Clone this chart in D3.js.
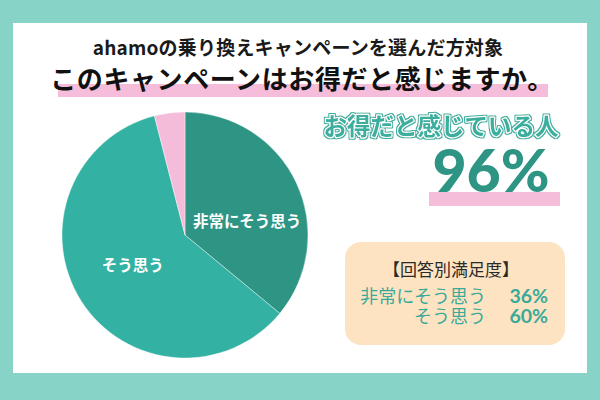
<!DOCTYPE html>
<html><head><meta charset="utf-8">
<script src="https://cdn.jsdelivr.net/npm/d3@7"></script>
<style>html,body{margin:0;padding:0;background:#fff;}svg{display:block;}</style>
</head><body>
<svg id="c" width="600" height="400"></svg>
<script>
const categories = ["非常にそう思う", "そう思う", "その他"];
const values = [36, 60, 4];
const colors = ["#2E9585", "#33B1A2", "#F5BCDA"];
const titleLine1 = "ahamoの乗り換えキャンペーンを選んだ方対象";
const titleLine2 = "このキャンペーンはお得だと感じますか。";
const headline = "お得だと感じている人";
const headlineValue = "96%";
const boxTitle = "【回答別満足度】";
const boxRows = [["非常にそう思う", "36%"], ["そう思う", "60%"]];

const W = 600, H = 400;
const svg = d3.select("#c");
const F = "'Noto Sans CJK JP','Noto Sans',sans-serif";

// outline filter for headline
const defs = svg.append("defs");
const flt = defs.append("filter").attr("id", "outl").attr("x", "-10%").attr("y", "-30%").attr("width", "120%").attr("height", "160%");
flt.append("feMorphology").attr("in", "SourceAlpha").attr("operator", "dilate").attr("radius", 1.3).attr("result", "d");
flt.append("feFlood").attr("flood-color", "#3AAE9E").attr("result", "f");
flt.append("feComposite").attr("in", "f").attr("in2", "d").attr("operator", "in").attr("result", "o");
const fm = flt.append("feMerge");
fm.append("feMergeNode").attr("in", "o");
fm.append("feMergeNode").attr("in", "SourceGraphic");

// frame
svg.append("rect").attr("width", W).attr("height", H).attr("fill", "#87D3C8");
svg.append("rect").attr("x", 13).attr("y", 23).attr("width", 574).attr("height", 350).attr("fill", "#fff");

// titles
svg.append("rect").attr("x", 58).attr("y", 84).attr("width", 490).attr("height", 13).attr("fill", "#F6BDDA");
svg.append("text").attr("x", 298).attr("y", 55).attr("text-anchor", "middle")
  .attr("font-family", F).attr("font-weight", 700).attr("font-size", 19).attr("letter-spacing", 0.2).attr("fill", "#1a1a1a")
  .text(titleLine1);
svg.append("text").attr("x", 302).attr("y", 89).attr("text-anchor", "middle")
  .attr("font-family", F).attr("font-weight", 700).attr("font-size", 26).attr("letter-spacing", 0.6).attr("fill", "#111")
  .text(titleLine2);

// pie
const cx = 185, cy = 235, r = 123;
const pie = d3.pie().sort(null).value(d => d)(values);
const arc = d3.arc().innerRadius(0).outerRadius(r);
const labelArc = d3.arc().innerRadius(62).outerRadius(62);
const g = svg.append("g").attr("transform", `translate(${cx},${cy})`);
g.selectAll("path").data(pie).join("path")
  .attr("d", arc).attr("fill", (d, i) => colors[i])
  .attr("stroke", "#fff").attr("stroke-width", 0.4);
const labelShift = [[6, 13], [0, -3], null];
g.selectAll("text.pl").data(pie.filter((d, i) => labelShift[i])).join("text")
  .attr("class", "pl")
  .attr("x", (d) => labelArc.centroid(d)[0] + labelShift[d.index][0])
  .attr("y", (d) => labelArc.centroid(d)[1] + labelShift[d.index][1])
  .attr("dy", "0.35em")
  .attr("text-anchor", "middle")
  .attr("font-family", F).attr("font-weight", 700).attr("font-size", 15.5).attr("fill", "#fff")
  .text(d => categories[d.index]);

// headline
svg.append("text").attr("x", 441).attr("y", 135).attr("text-anchor", "middle")
  .attr("font-family", F).attr("font-weight", 700).attr("font-size", 23.5)
  .attr("fill", "#3AAE9E").attr("stroke", "#ffffff").attr("stroke-width", 2.4)
  .attr("stroke-linejoin", "round").attr("paint-order", "stroke")
  .attr("filter", "url(#outl)")
  .text(headline);
svg.append("rect").attr("x", 429).attr("y", 192).attr("width", 131).attr("height", 14).attr("fill", "#F6BDDA");
svg.append("text").attr("x", 491).attr("y", 192).attr("text-anchor", "middle")
  .attr("font-family", "Lato,'Noto Sans',sans-serif").attr("font-weight", 900).attr("font-size", 59)
  .attr("fill", "#2E9585")
  .text(headlineValue);

// box
svg.append("rect").attr("x", 345).attr("y", 242).attr("width", 220).attr("height", 103).attr("rx", 16)
  .attr("fill", "#FDE3C1");
svg.append("text").attr("x", 451).attr("y", 276).attr("text-anchor", "middle")
  .attr("font-family", F).attr("font-weight", 400).attr("font-size", 17).attr("fill", "#2a2a2a")
  .text(boxTitle);
const rowY = d3.scalePoint().domain(boxRows.map(d => d[0])).range([303, 323]);
boxRows.forEach(row => {
  svg.append("text").attr("x", 486).attr("y", rowY(row[0])).attr("text-anchor", "end")
    .attr("font-family", F).attr("font-weight", 400).attr("font-size", 18).attr("fill", "#3AAA9A")
    .text(row[0]);
  svg.append("text").attr("x", 548).attr("y", rowY(row[0])).attr("text-anchor", "end")
    .attr("font-family", "Lato,'Noto Sans',sans-serif").attr("font-weight", 700).attr("font-size", 19.5).attr("fill", "#3AAA9A")
    .text(row[1]);
});
</script>
</body></html>
